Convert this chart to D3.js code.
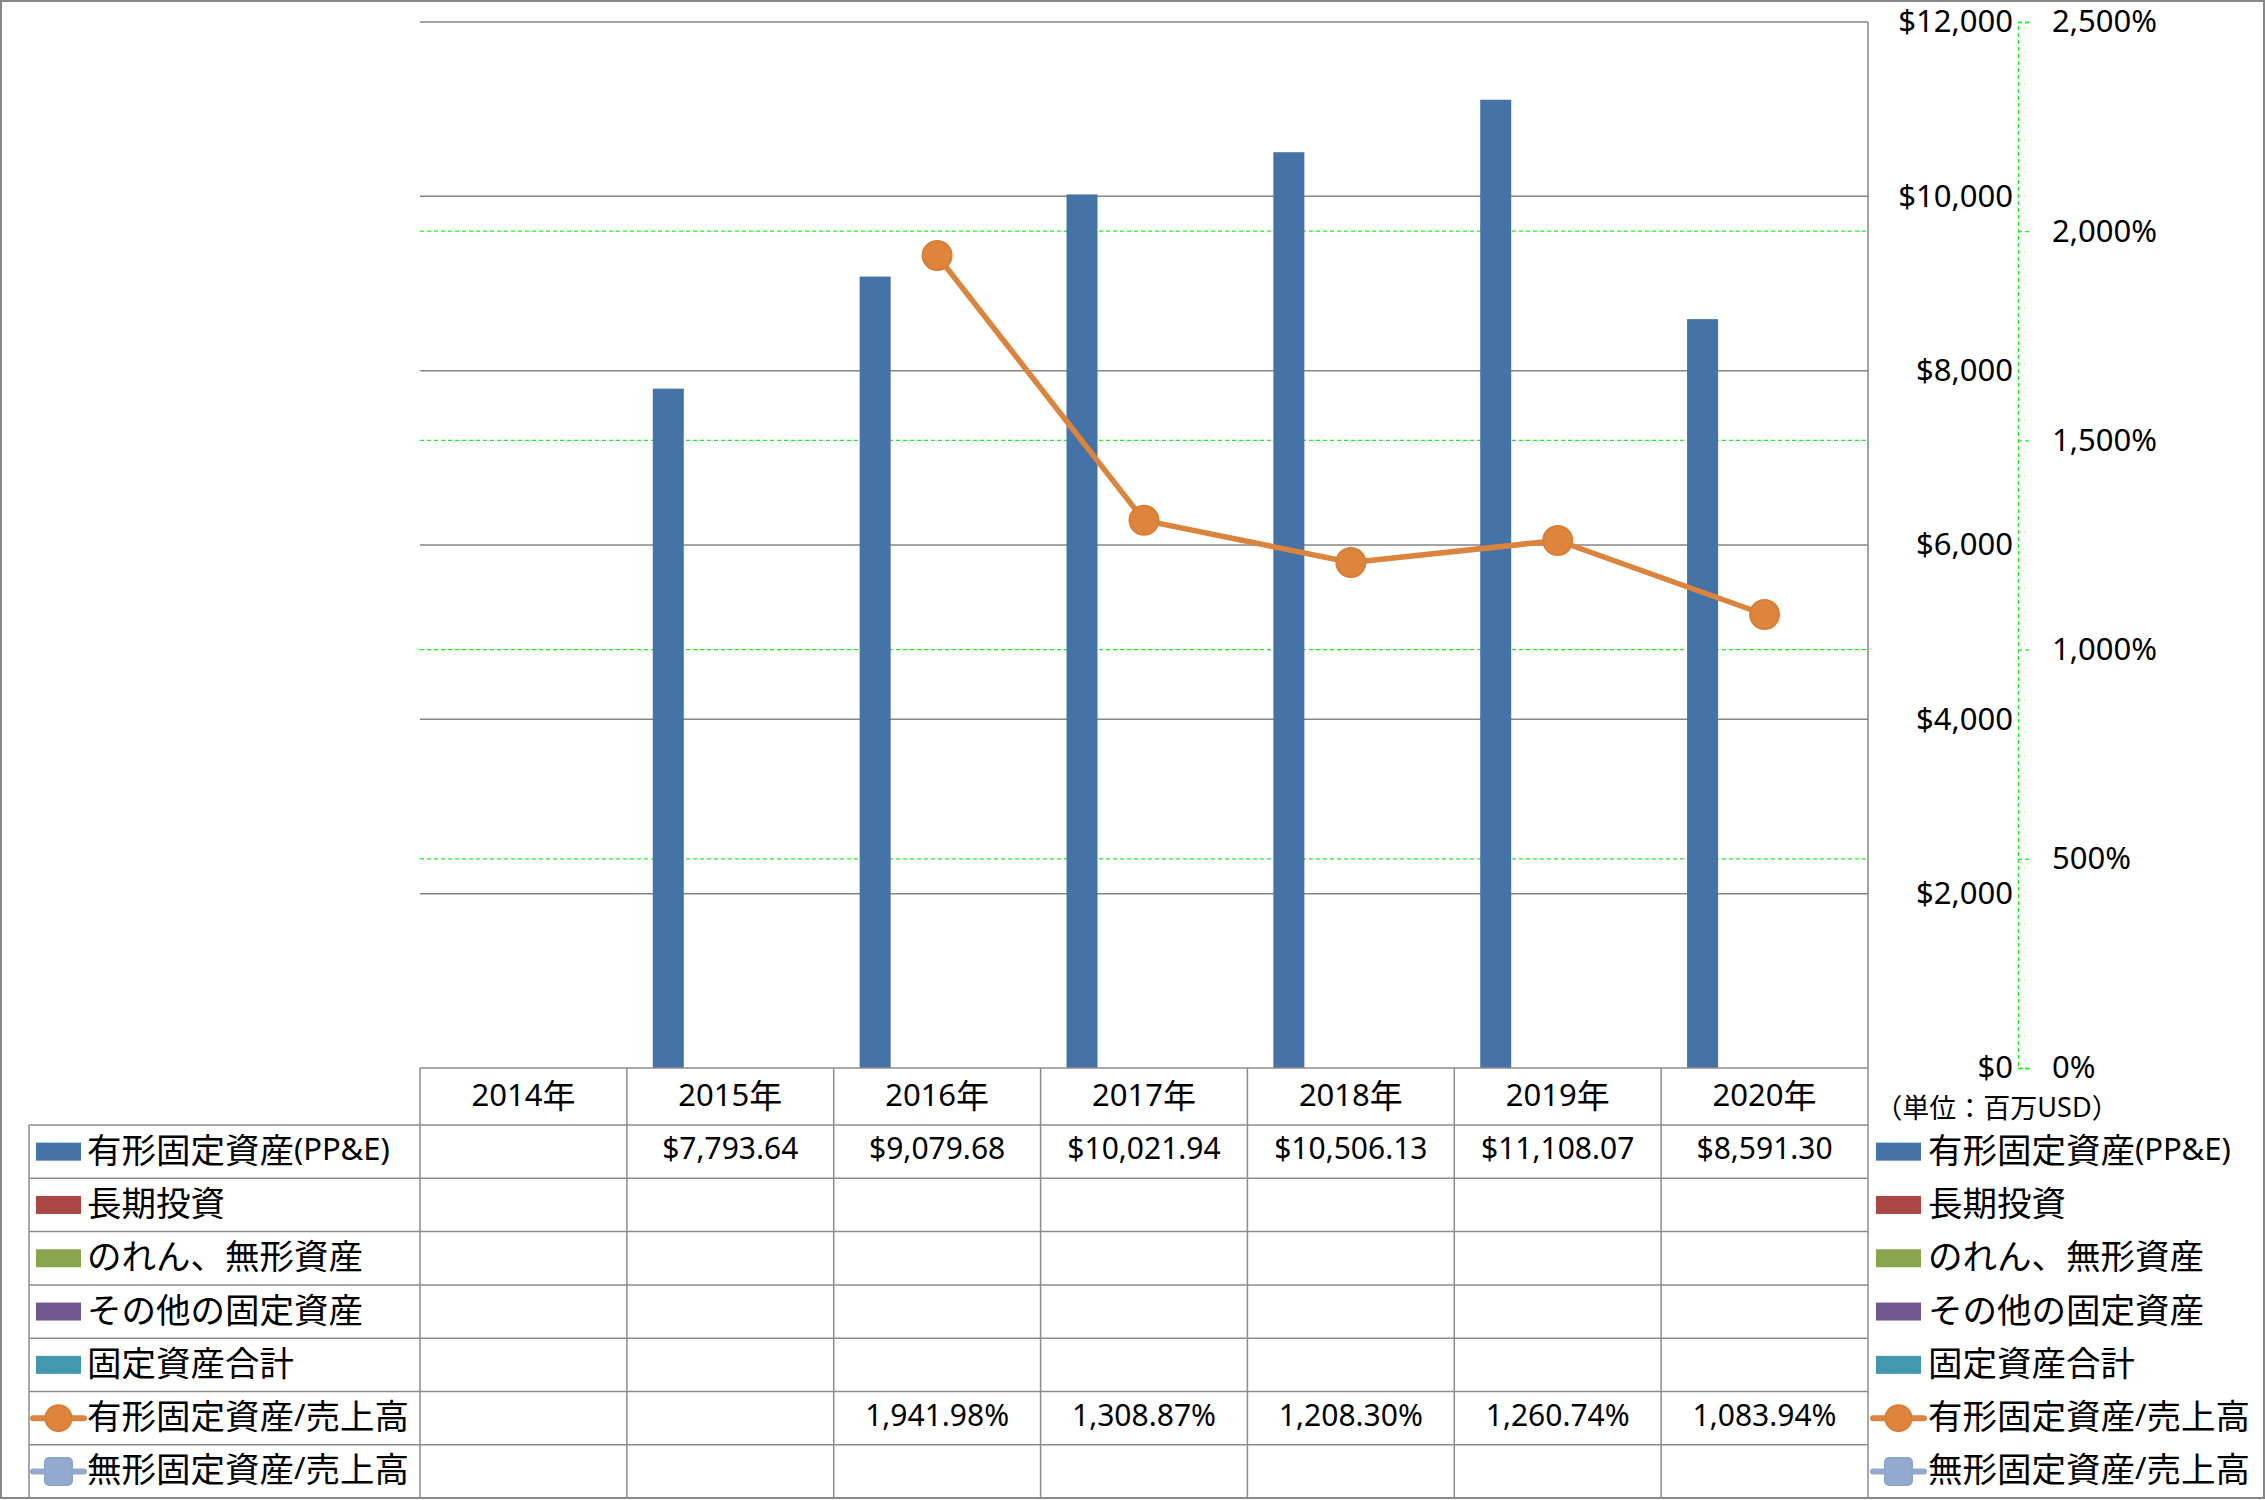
<!DOCTYPE html>
<html><head><meta charset="utf-8">
<script src="https://cdn.jsdelivr.net/npm/d3@7"></script>
<style>
html,body{margin:0;padding:0;background:#fff;}
svg{display:block;}
</style></head>
<body>
<svg id="chart" width="2265" height="1500"></svg>
<script>
const years = ["2014年","2015年","2016年","2017年","2018年","2019年","2020年"];
const ppe = [null, 7793.64, 9079.68, 10021.94, 10506.13, 11108.07, 8591.30];
const longInv = [null,null,null,null,null,null,null];
const goodwill = [null,null,null,null,null,null,null];
const otherFixed = [null,null,null,null,null,null,null];
const totalFixed = [null,null,null,null,null,null,null];
const ppeRatio = [null, null, 1941.98, 1308.87, 1208.30, 1260.74, 1083.94];
const intangRatio = [null,null,null,null,null,null,null];
const seriesNames = ["有形固定資産(PP&E)","長期投資","のれん、無形資産","その他の固定資産","固定資産合計","有形固定資産/売上高","無形固定資産/売上高"];
const seriesColors = ["#4572A7","#AA4643","#89A54E","#71588F","#4198AF","#DB843D","#93A9CF"];
const seriesKinds = ["bar","bar","bar","bar","bar","line","lineSq"];
const seriesData = [ppe, longInv, goodwill, otherFixed, totalFixed, ppeRatio, intangRatio];
const leftTicks = [0,2000,4000,6000,8000,10000,12000];
const rightTicks = [0,500,1000,1500,2000,2500];
const unitLabel = "（単位：百万USD）";

const svg = d3.select("#chart");
const L = 420, R = 1868, T = 22, B = 1068;
const rowH = 53.3, headH = 57;
const legendLeft = 29;

const x = d3.scaleBand().domain(years).range([L, R]);
const y = d3.scaleLinear().domain([0, 12000]).range([B, T]);
const y2 = d3.scaleLinear().domain([0, 2500]).range([B, T]);
const barSeries = seriesNames.filter((n,i)=>seriesKinds[i]==="bar");
const bw = x.bandwidth();
const clusterW = 155;
const xs = d3.scaleBand().domain(barSeries).range([(bw-clusterW)/2, (bw+clusterW)/2]);

const CJK = /[\u3000-\u30ff\u3400-\u9fff\uff00-\uffef]/;
function mixed(sel, str, latinSize, cjkSize){
  const runs = [];
  for (const ch of str){
    const c = CJK.test(ch);
    if (runs.length && runs[runs.length-1].c === c) runs[runs.length-1].t += ch;
    else runs.push({c, t: ch});
  }
  runs.forEach(r => {
    sel.append("tspan")
      .attr("font-family", r.c ? "'Noto Sans CJK JP'" : "'Noto Sans', 'Noto Sans CJK JP'")
      .attr("font-size", r.c ? cjkSize : latinSize)
      .text(r.t);
  });
}

// outer border
svg.append("rect").attr("x",1).attr("y",1).attr("width",2263).attr("height",1497)
  .attr("fill","#fff").attr("stroke","#868686").attr("stroke-width",2);

// primary gridlines
svg.append("g").selectAll("line").data(leftTicks.filter(d=>d>0)).join("line")
  .attr("x1",L).attr("x2",R).attr("y1",d=>y(d)).attr("y2",d=>y(d))
  .attr("stroke","#868686").attr("stroke-width",1.5);
// secondary gridlines (green dashed)
svg.append("g").selectAll("line").data(rightTicks.filter(d=>d>0 && d<2500)).join("line")
  .attr("x1",L).attr("x2",R).attr("y1",d=>y2(d)).attr("y2",d=>y2(d))
  .attr("stroke","#22ee22").attr("stroke-width",1.3).attr("stroke-dasharray","4,3");

// vertical axis line at right of plot
svg.append("line").attr("x1",R).attr("x2",R).attr("y1",T).attr("y2",B)
  .attr("stroke","#868686").attr("stroke-width",1.5);

// bars
barSeries.forEach((name) => {
  const i = seriesNames.indexOf(name);
  const data = seriesData[i];
  svg.append("g").selectAll("rect")
    .data(years.map((yr,k)=>({yr, v:data[k]})).filter(d=>d.v!=null))
    .join("rect")
    .attr("x", d=>x(d.yr)+xs(name))
    .attr("width", xs.bandwidth())
    .attr("y", d=>y(d.v))
    .attr("height", d=>B-y(d.v))
    .attr("fill", seriesColors[i]);
});

// line series
const lineData = years.map((yr,k)=>({yr, v:ppeRatio[k]})).filter(d=>d.v!=null);
const line = d3.line().x(d=>x(d.yr)+bw/2).y(d=>y2(d.v));
svg.append("path").datum(lineData).attr("d",line).attr("fill","none")
  .attr("stroke",seriesColors[5]).attr("stroke-width",5.5).attr("stroke-linejoin","round");
svg.append("g").selectAll("circle").data(lineData).join("circle")
  .attr("cx",d=>x(d.yr)+bw/2).attr("cy",d=>y2(d.v)).attr("r",14.5)
  .attr("fill","#DD843D").attr("stroke","#D97E36").attr("stroke-width",2);

// primary axis (labels right aligned)
const axL = svg.append("g").attr("transform","translate(2013,0)")
  .call(d3.axisLeft(y).tickValues(leftTicks).tickSize(0).tickPadding(0)
    .tickFormat(d=>"$"+d3.format(",")(d)));
axL.select(".domain").remove();
axL.selectAll("text").attr("font-family","'Noto Sans'").attr("font-size",31).attr("fill","#000");

// secondary axis
const axR = svg.append("g").attr("transform","translate(2018,0)")
  .call(d3.axisRight(y2).tickValues(rightTicks).tickSize(12).tickPadding(22)
    .tickFormat(d=>d3.format(",")(d)+"%"));
axR.select(".domain").attr("stroke","#22ee22").attr("stroke-width",1.3).attr("stroke-dasharray","4,3");
axR.selectAll(".tick line").attr("stroke","#22ee22").attr("stroke-width",1.3).attr("stroke-dasharray","4,3");
axR.selectAll("text").attr("font-family","'Noto Sans'").attr("font-size",31).attr("fill","#000");

// unit label
const ul = svg.append("text").attr("x",1997).attr("y",1106).attr("text-anchor","middle")
  .attr("dominant-baseline","central").attr("fill","#000");
mixed(ul, unitLabel, 27, 27);

// data table
const tg = svg.append("g");
const gridStroke = "#8c8c8c";
const nRows = seriesNames.length;
const tableBottom = B + headH + nRows*rowH;
const textDy = -4;
tg.append("line").attr("x1",L).attr("x2",R).attr("y1",B).attr("y2",B).attr("stroke",gridStroke).attr("stroke-width",1.5);
d3.range(nRows+1).forEach(r=>{
  const yy = B+headH+r*rowH;
  tg.append("line").attr("x1",legendLeft).attr("x2",R).attr("y1",yy).attr("y2",yy)
    .attr("stroke",gridStroke).attr("stroke-width",1.5);
});
tg.append("line").attr("x1",legendLeft).attr("x2",legendLeft).attr("y1",B+headH).attr("y2",tableBottom).attr("stroke",gridStroke).attr("stroke-width",1.5);
years.forEach(yr=>{
  tg.append("line").attr("x1",x(yr)).attr("x2",x(yr)).attr("y1",B).attr("y2",tableBottom).attr("stroke",gridStroke).attr("stroke-width",1.5);
});
tg.append("line").attr("x1",R).attr("x2",R).attr("y1",B).attr("y2",tableBottom).attr("stroke",gridStroke).attr("stroke-width",1.5);

// header
years.forEach(yr=>{
  const t = tg.append("text").attr("x",x(yr)+bw/2).attr("y",B+headH/2+textDy+1).attr("text-anchor","middle")
    .attr("dominant-baseline","central").attr("fill","#000");
  mixed(t, yr, 31, 33);
});

function drawKey(g, i, x0, cy){
  const c = seriesColors[i];
  if (seriesKinds[i]==="bar"){
    g.append("rect").attr("x",x0).attr("y",cy-9).attr("width",45).attr("height",18).attr("fill",c);
  } else if (seriesKinds[i]==="line"){
    g.append("line").attr("x1",x0-3).attr("x2",x0+48).attr("y1",cy).attr("y2",cy).attr("stroke",c).attr("stroke-width",6).attr("stroke-linecap","round");
    g.append("circle").attr("cx",x0+22.5).attr("cy",cy).attr("r",13).attr("fill","#DD843D").attr("stroke","#D97E36").attr("stroke-width",2);
  } else {
    g.append("line").attr("x1",x0-3).attr("x2",x0+48).attr("y1",cy).attr("y2",cy).attr("stroke",c).attr("stroke-width",6).attr("stroke-linecap","round");
    g.append("rect").attr("x",x0+9).attr("y",cy-13.5).attr("width",27).attr("height",27).attr("rx",4).attr("fill","#93A9CF").attr("stroke","#8EA5CC").attr("stroke-width",2);
  }
}

seriesNames.forEach((name,i)=>{
  const cy = B+headH+i*rowH+rowH/2;
  drawKey(tg, i, 36, cy);
  const t = tg.append("text").attr("x",87).attr("y",cy+textDy).attr("dominant-baseline","central").attr("fill","#000");
  mixed(t, name, 31, 34.5);
  seriesData[i].forEach((v,k)=>{
    if (v==null) return;
    const s = i===5||i===6 ? d3.format(",.2f")(v)+"%" : "$"+d3.format(",.2f")(v);
    tg.append("text").attr("x",x(years[k])+bw/2).attr("y",cy+textDy).attr("text-anchor","middle")
      .attr("dominant-baseline","central").attr("font-family","'Noto Sans'").attr("font-size",30)
      .attr("fill","#000").text(s);
  });
  drawKey(tg, i, 1876, cy);
  const t2 = tg.append("text").attr("x",1928).attr("y",cy+textDy).attr("dominant-baseline","central").attr("fill","#000");
  mixed(t2, name, 31, 34.5);
});
</script>
</body></html>
